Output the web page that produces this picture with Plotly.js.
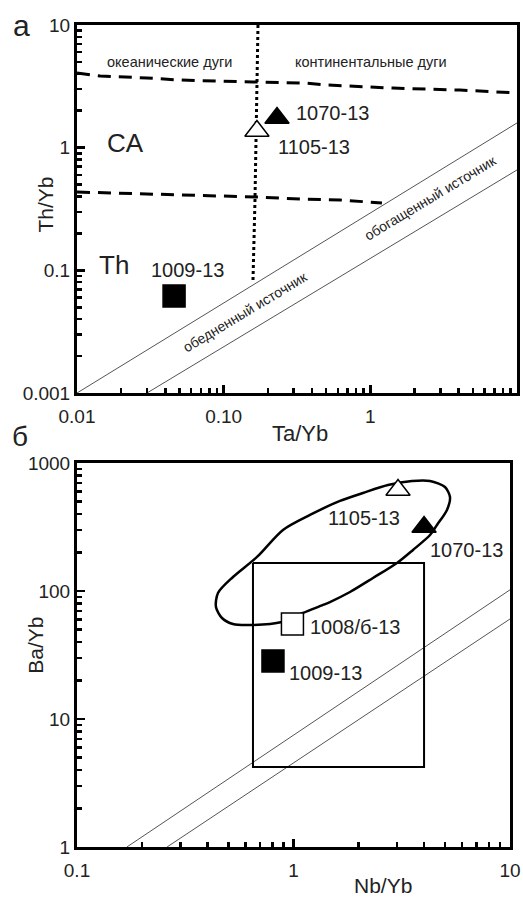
<!DOCTYPE html>
<html>
<head>
<meta charset="utf-8">
<script src="https://cdn.plot.ly/plotly-3.0.1.min.js"></script>
<style>html,body{margin:0;padding:0;background:#fff;}#chart{width:523px;height:897px;}</style>
</head>
<body>
<div id="chart"></div>
<script>
// ---------- Panel "а": Th/Yb vs Ta/Yb ----------
const upperDashTaYb = [0.01, 0.0144, 0.030, 0.0504, 0.1585, 0.3475, 0.506, 1.427, 4.08, 10];
const upperDashThYb = [4.06, 3.84, 3.70, 3.56, 3.43, 3.37, 3.24, 3.06, 2.95, 2.79];
const lowerDashTaYb = [0.01, 0.0318, 0.1686, 0.3315, 0.621, 1.20];
const lowerDashThYb = [0.435, 0.419, 0.396, 0.381, 0.3745, 0.354];
const dottedTaYb = [0.1714, 0.1687, 0.1635, 0.1583];
const dottedThYb = [10, 2.45, 0.3745, 0.0788];
const depletedTaYb = [0.01, 10];
const depletedThYb = [0.01, 1.59];
const enrichedTaYb = [0.030, 10];
const enrichedThYb = [0.01, 0.658];

const samplesA = ['1009-13', '1070-13', '1105-13'];
const sampleTaYb = [0.0459, 0.231, 0.1686];
const sampleThYb = [0.0618, 1.746, 1.367];

const tickValsA_x = [0.01, 0.1, 1, 10];
const tickTextA_x = ['0.01', '0.10', '1', '10'];
const tickValsA_y = [0.01, 0.1, 1, 10];
const tickTextA_y = ['0.001', '0.1', '1', '10'];

// ---------- Panel "б": Ba/Yb vs Nb/Yb ----------
const ellipseNbYb = [0.4385, 0.448, 0.5255, 0.6784, 0.8944, 1.192, 1.640, 2.094, 2.732, 3.526, 4.272, 5.009, 5.284, 5.117, 4.600, 4.272, 3.565, 3.007, 2.329, 1.824, 1.474, 1.369, 1.106, 0.984, 0.885, 0.650, 0.5255, 0.4675, 0.4385];
const ellipseBaYb = [75.0, 96.5, 128.6, 184.4, 299.7, 392.6, 505, 583, 673, 723, 723, 649, 542, 429.5, 327.7, 273.8, 209.1, 165.5, 126.3, 98.2, 82.0, 77.8, 67.3, 61.5, 57.3, 54.3, 55.2, 61.5, 75.0];
const boxNbYb = [0.650, 4.01, 4.01, 0.650, 0.650];
const boxBaYb = [165.5, 165.5, 4.22, 4.22, 165.5];
const diagUpperNbYb = [0.170, 10];
const diagUpperBaYb = [1, 102];
const diagLowerNbYb = [0.2606, 10];
const diagLowerBaYb = [1, 60.4];

const samplesB = ['1105-13', '1070-13', '1008/б-13', '1009-13'];
const sampleNbYb = [3.04, 4.01, 0.989, 0.804];
const sampleBaYb = [615, 316, 55.2, 28.4];

const tickValsB_x = [0.1, 1, 10];
const tickTextB_x = ['0.1', '1', '10'];
const tickValsB_y = [1, 10, 100, 1000];
const tickTextB_y = ['1', '10', '100', '1000'];

const FONT = 'Liberation Sans, Arial, Helvetica, sans-serif';
const L = Math.log10;

const traces = [
  // panel a
  {x: depletedTaYb, y: depletedThYb, xaxis: 'x', yaxis: 'y', mode: 'lines', line: {color: '#555', width: 1}},
  {x: enrichedTaYb, y: enrichedThYb, xaxis: 'x', yaxis: 'y', mode: 'lines', line: {color: '#555', width: 1}},
  {x: upperDashTaYb, y: upperDashThYb, xaxis: 'x', yaxis: 'y', mode: 'lines', line: {color: '#000', width: 3, dash: '13px,8px'}},
  {x: lowerDashTaYb, y: lowerDashThYb, xaxis: 'x', yaxis: 'y', mode: 'lines', line: {color: '#000', width: 3, dash: '13px,8px'}},
  {x: dottedTaYb, y: dottedThYb, xaxis: 'x', yaxis: 'y', mode: 'lines', line: {color: '#000', width: 3, dash: 'dot'}},
  {x: sampleTaYb, y: sampleThYb, xaxis: 'x', yaxis: 'y', mode: 'markers', text: samplesA,
   marker: {symbol: ['square', 'triangle-up', 'triangle-up'], size: [22, 21, 21], opacity: 1,
            color: ['#000', '#000', '#fff'], line: {color: '#000', width: 1.5}}},
  // panel b
  {x: diagUpperNbYb, y: diagUpperBaYb, xaxis: 'x2', yaxis: 'y2', mode: 'lines', line: {color: '#555', width: 1}},
  {x: diagLowerNbYb, y: diagLowerBaYb, xaxis: 'x2', yaxis: 'y2', mode: 'lines', line: {color: '#555', width: 1}},
  {x: boxNbYb, y: boxBaYb, xaxis: 'x2', yaxis: 'y2', mode: 'lines', line: {color: '#000', width: 2}},
  {x: ellipseNbYb, y: ellipseBaYb, xaxis: 'x2', yaxis: 'y2', mode: 'lines', line: {color: '#000', width: 2.5, shape: 'spline', smoothing: 0.8}},
  {x: sampleNbYb, y: sampleBaYb, xaxis: 'x2', yaxis: 'y2', mode: 'markers', text: samplesB,
   marker: {symbol: ['triangle-up', 'triangle-up', 'square', 'square'], size: [21, 21, 22, 22], opacity: 1,
            color: ['#fff', '#000', '#fff', '#000'], line: {color: '#000', width: 1.5}}}
];

function axisCommon(extra) {
  return Object.assign({
    type: 'log', showgrid: false, zeroline: false,
    showline: true, linecolor: '#000', linewidth: 3, mirror: true,
    ticks: 'inside', ticklen: 8, tickwidth: 2.5, tickcolor: '#000',
    tickmode: 'array',
    tickfont: {family: FONT, size: 19, color: '#222'},
    minor: {ticks: 'inside', ticklen: 5, tickwidth: 2.5, tickcolor: '#000', dtick: 'D1', showgrid: false},
    fixedrange: true
  }, extra);
}

const txt = (text, x, y, size, ref, extra) => Object.assign({
  text: text, x: x, y: y, xref: ref[0], yref: ref[1], showarrow: false,
  font: {family: FONT, size: size, color: '#222'}, xanchor: 'center', yanchor: 'middle'
}, extra || {});

const annotations = [
  // panel letters
  txt('а', -0.127, 1.0, 30, ['paper', 'paper']),
  txt('б', -0.129, 0.499, 28, ['paper', 'paper']),
  // axis titles
  txt('Th/Yb', -0.072, 0.782, 21, ['paper', 'paper'], {textangle: -90}),
  txt('Ta/Yb', 0.507, 0.503, 22, ['paper', 'paper']),
  txt('Ba/Yb', -0.095, 0.245, 21, ['paper', 'paper'], {textangle: -90}),
  txt('Nb/Yb', 0.695, -0.047, 21, ['paper', 'paper']),
  // panel a region labels
  txt('океанические дуги', -1.366, 0.698, 14.5, ['x', 'y']),
  txt('континентальные дуги', 0.0045, 0.698, 14.5, ['x', 'y']),
  txt('CA', -1.666, 0.038, 26, ['x', 'y']),
  txt('Th', -1.748, -0.956, 26, ['x', 'y']),
  txt('обедненный источник', -0.8546, -1.3396, 14, ['x', 'y'], {textangle: -31}),
  txt('обогащенный источник', 0.4068, -0.410, 14, ['x', 'y'], {textangle: -31}),
  // sample labels a
  txt(samplesA[0], -1.25, -0.997, 20, ['x', 'y']),
  txt(samplesA[1], -0.2546, 0.2826, 20, ['x', 'y']),
  txt(samplesA[2], -0.384, 0.0055, 20, ['x', 'y']),
  // sample labels b
  txt(samplesB[0], 0.3256, 2.570, 20, ['x2', 'y2']),
  txt(samplesB[1], 0.8014, 2.320, 20, ['x2', 'y2']),
  txt(samplesB[2], 0.2841, 1.719, 20, ['x2', 'y2']),
  txt(samplesB[3], 0.150, 1.359, 20, ['x2', 'y2'])
];

const layout = {
  width: 523, height: 897,
  margin: {l: 77, r: 6, t: 25, b: 50, pad: 0},
  paper_bgcolor: '#fff', plot_bgcolor: '#fff',
  showlegend: false,
  font: {family: FONT, color: '#222'},
  xaxis: axisCommon({domain: [0, 1], anchor: 'y', range: [L(0.01), L(10)],
    tickvals: tickValsA_x, ticktext: tickTextA_x, ticklabelstandoff: 4}),
  yaxis: axisCommon({domain: [0.5523, 1], anchor: 'x', range: [L(0.01), L(10)],
    tickvals: tickValsA_y, ticktext: tickTextA_y}),
  xaxis2: axisCommon({domain: [0, 0.984], anchor: 'y2', range: [L(0.1), L(10)],
    tickvals: tickValsB_x, ticktext: tickTextB_x, ticklabelstandoff: 4}),
  yaxis2: axisCommon({domain: [0, 0.4672], anchor: 'x2', range: [L(1), L(1000)],
    tickvals: tickValsB_y, ticktext: tickTextB_y}),
  annotations: annotations
};

Plotly.newPlot('chart', traces, layout, {staticPlot: true, displayModeBar: false});
</script>
</body>
</html>
